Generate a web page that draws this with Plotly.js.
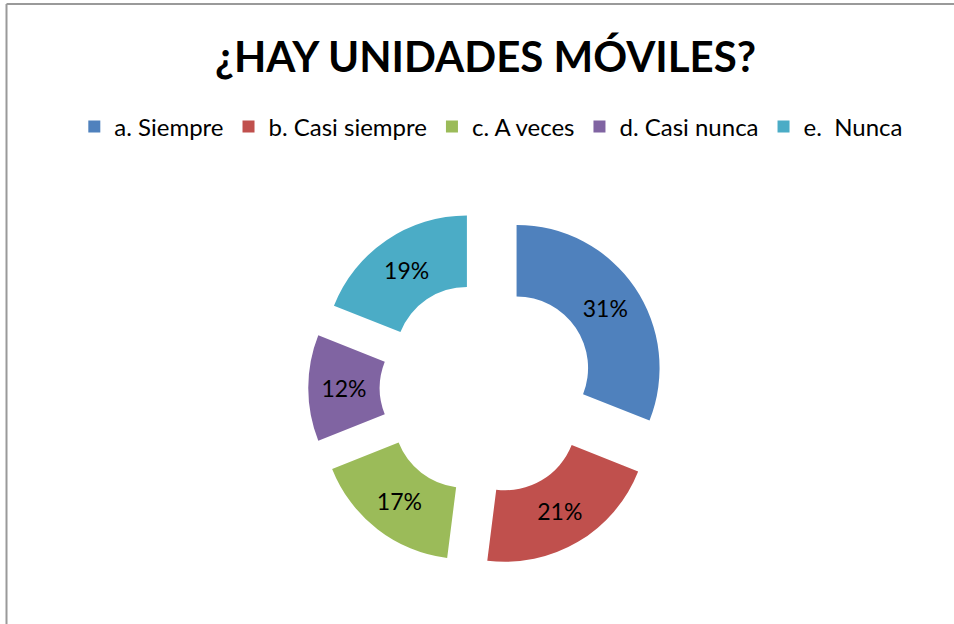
<!DOCTYPE html>
<html>
<head>
<meta charset="utf-8">
<script src="https://cdn.plot.ly/plotly-3.0.1.min.js"></script>
<style>html,body{margin:0;padding:0;background:#fff;}#chart{width:954px;height:624px;}</style>
</head>
<body>
<div id="chart"></div>
<script>
const categories = ["a. Siempre", "b. Casi siempre", "c. A veces", "d. Casi nunca", "e.  Nunca"];
const values = [31, 21, 17, 12, 19];
const colors = ["#4F81BD", "#C0504D", "#9BBB59", "#8064A2", "#4BACC6"];
const chartTitle = "¿HAY UNIDADES MÓVILES?";

const W = 954, H = 624;
const cx = 487, cy = 388, side = 357.5;

const trace = {
  type: "pie",
  labels: categories,
  values: values,
  hole: 0.5,
  pull: values.map(() => 0.25),
  sort: false,
  direction: "clockwise",
  rotation: 0,
  marker: {colors: colors, line: {width: 0}},
  textinfo: "percent",
  texttemplate: "%{percent:.0%}",
  textposition: "inside",
  insidetextorientation: "horizontal",
  textfont: {family: "Lato, 'Open Sans', sans-serif", size: 23, color: "#000"},
  domain: {
    x: [(cx - side / 2) / W, (cx + side / 2) / W],
    y: [1 - (cy + side / 2) / H, 1 - (cy - side / 2) / H]
  },
  hoverinfo: "label+percent"
};

const layout = {
  width: W, height: H,
  margin: {l: 0, r: 0, t: 0, b: 0},
  paper_bgcolor: "#fff",
  title: {
    text: "<b>" + chartTitle + "</b>",
    font: {family: "Lato, 'Open Sans', sans-serif", size: 42, color: "#000"},
    x: 0.509, xanchor: "center",
    y: 1 - 57 / H, yanchor: "middle"
  },
  showlegend: true,
  legend: {
    orientation: "h",
    x: 0.515, xanchor: "center",
    y: 1 - 127 / H, yanchor: "middle",
    font: {family: "Lato, 'Open Sans', sans-serif", size: 24, color: "#000"},
    itemwidth: 30,
    traceorder: "normal"
  },
  shapes: [
    {type: "line", xref: "paper", yref: "paper", x0: 6.5 / W, x1: 6.5 / W, y0: 0, y1: 1 - 4 / H, line: {color: "#9a9a9a", width: 2}},
    {type: "line", xref: "paper", yref: "paper", x0: 6.5 / W, x1: 1, y0: 1 - 4 / H, y1: 1 - 4 / H, line: {color: "#9a9a9a", width: 2}}
  ]
};

Plotly.newPlot("chart", [trace], layout, {displayModeBar: false, staticPlot: true});
</script>
</body>
</html>
